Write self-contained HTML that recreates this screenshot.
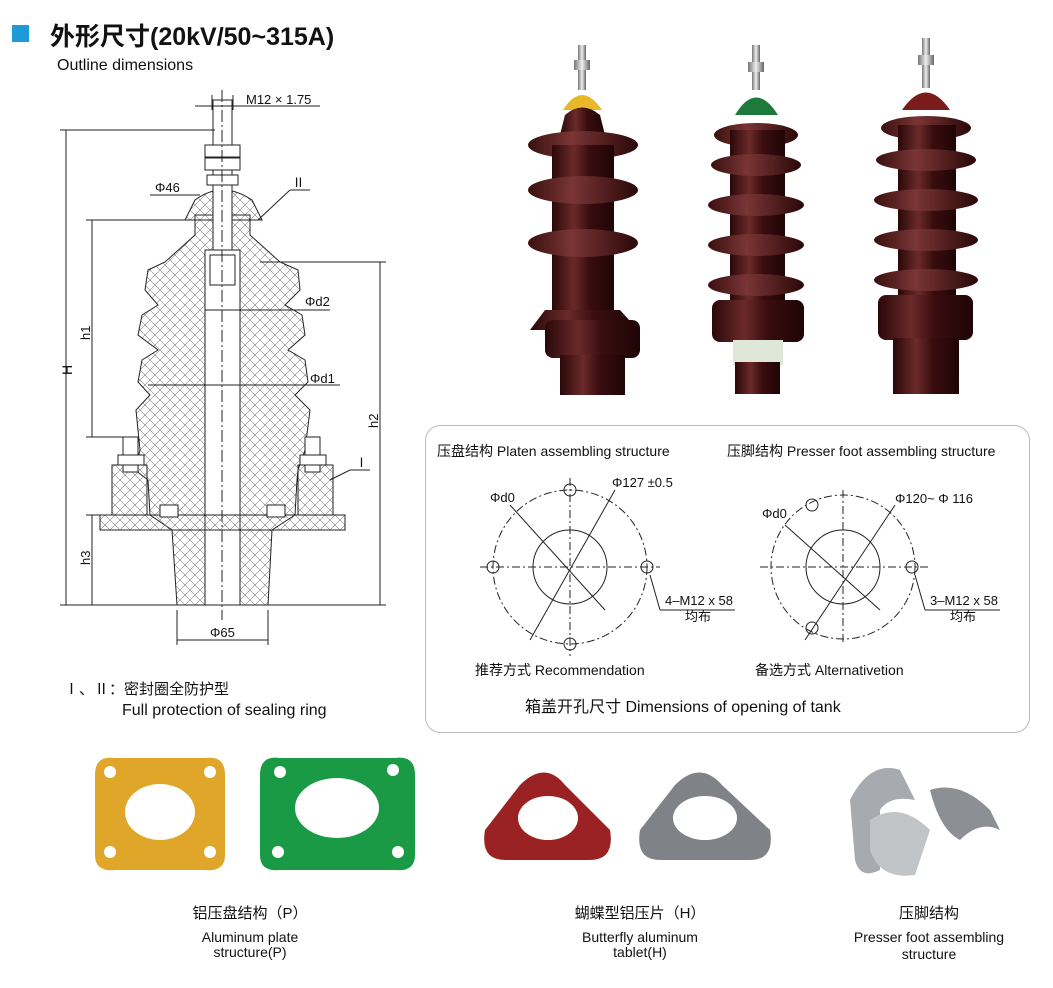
<!DOCTYPE html>
<html><head><meta charset="utf-8"><style>
body{margin:0;background:#fff;}
svg{display:block;font-family:"Liberation Sans","Noto Sans CJK SC",sans-serif;}
</style></head><body>
<svg width="1053" height="988" viewBox="0 0 1053 988" xmlns="http://www.w3.org/2000/svg">
<defs>
<pattern id="hatch" width="10" height="10" patternUnits="userSpaceOnUse">
<path d="M0 0L10 10M10 0L0 10" stroke="#555" stroke-width="0.5"/>
</pattern>
<linearGradient id="br" x1="0" x2="1">
<stop offset="0" stop-color="#2a0808"/><stop offset="0.35" stop-color="#6b2a2a"/><stop offset="0.6" stop-color="#3a0d0f"/><stop offset="1" stop-color="#1e0505"/>
</linearGradient>
<linearGradient id="br2" x1="0" x2="1">
<stop offset="0" stop-color="#3a1010"/><stop offset="0.4" stop-color="#7a3535"/><stop offset="1" stop-color="#2a0808"/>
</linearGradient>
<linearGradient id="steel" x1="0" x2="1">
<stop offset="0" stop-color="#777"/><stop offset="0.5" stop-color="#eee"/><stop offset="1" stop-color="#666"/>
</linearGradient>
</defs>

<rect x="12" y="25" width="17" height="17" fill="#1e9ad6"/>
<text x="50" y="45" font-size="25" font-weight="bold" fill="#111">外形尺寸(20kV/50~315A)</text>
<text x="57" y="70" font-size="16" fill="#111">Outline dimensions</text>

<g stroke="#222" stroke-width="1" fill="none">
<path d="M177 605 L172 530 L150 515 L148 480 L135 470 L140 450 L136 410 L150 395 L138 382 L142 360 L158 350 L138 335 L142 315 L158 305 L145 290 L148 270 L165 262 L195 235 L195 215 L250 215 L250 235 L280 262 L298 270 L300 290 L285 305 L302 315 L305 335 L288 350 L305 360 L308 382 L295 395 L310 410 L305 450 L298 470 L297 480 L295 515 L272 530 L268 605 Z" fill="url(#hatch)"/>
<rect x="205" y="250" width="35" height="355" fill="#fff"/>
<path d="M195 200 Q222 180 252 200 L262 220 L185 220 Z" fill="url(#hatch)"/>
<rect x="213" y="100" width="19" height="150" fill="#fff"/>
<rect x="205" y="145" width="35" height="12" fill="#fff"/>
<rect x="205" y="158" width="35" height="12" fill="#fff"/>
<rect x="207" y="175" width="31" height="10" fill="#fff"/>
<rect x="210" y="255" width="25" height="30" fill="#fff"/>
<line x1="222" y1="90" x2="222" y2="620" stroke-dasharray="12 3 2 3"/>
<rect x="100" y="515" width="245" height="15" fill="url(#hatch)"/>
<rect x="112" y="465" width="35" height="50" fill="url(#hatch)"/>
<rect x="298" y="465" width="35" height="50" fill="url(#hatch)"/>
<rect x="123" y="437" width="15" height="35" fill="#fff"/>
<rect x="118" y="455" width="26" height="10" fill="#fff"/>
<rect x="305" y="437" width="15" height="35" fill="#fff"/>
<rect x="300" y="455" width="26" height="10" fill="#fff"/>
<rect x="160" y="505" width="18" height="12" fill="#fff"/>
<rect x="267" y="505" width="18" height="12" fill="#fff"/>
<line x1="66" y1="130" x2="66" y2="605"/>
<line x1="60" y1="130" x2="215" y2="130"/>
<line x1="60" y1="605" x2="180" y2="605"/>
<line x1="92" y1="220" x2="92" y2="437"/>
<line x1="86" y1="220" x2="190" y2="220"/>
<line x1="86" y1="437" x2="125" y2="437"/>
<line x1="92" y1="515" x2="92" y2="605"/>
<line x1="86" y1="515" x2="100" y2="515"/>
<line x1="380" y1="262" x2="380" y2="605"/>
<line x1="260" y1="262" x2="386" y2="262"/>
<line x1="268" y1="605" x2="386" y2="605"/>
<line x1="177" y1="610" x2="177" y2="645"/>
<line x1="268" y1="610" x2="268" y2="645"/>
<line x1="177" y1="640" x2="268" y2="640"/>
<line x1="212" y1="95" x2="212" y2="110"/><line x1="233" y1="95" x2="233" y2="110"/>
<line x1="195" y1="106" x2="320" y2="106"/>
<line x1="150" y1="195" x2="200" y2="195"/>
<line x1="205" y1="310" x2="330" y2="310"/>
<line x1="148" y1="385" x2="340" y2="385"/>
<line x1="258" y1="220" x2="290" y2="190"/><line x1="290" y1="190" x2="310" y2="190"/>
<line x1="330" y1="480" x2="350" y2="470"/><line x1="350" y1="470" x2="370" y2="470"/>
</g>
<g font-size="13" fill="#111">
<text x="246" y="104">M12 × 1.75</text>
<text x="155" y="192">Φ46</text>
<text x="292" y="187">Ⅱ</text>
<text x="305" y="306">Φd2</text>
<text x="310" y="383">Φd1</text>
<text x="355" y="467">Ⅰ</text>
<text x="210" y="637">Φ65</text>
<text transform="translate(72,375) rotate(-90)" font-size="14">H</text>
<text transform="translate(90,340) rotate(-90)">h1</text>
<text transform="translate(90,565) rotate(-90)">h3</text>
<text transform="translate(378,428) rotate(-90)">h2</text>
</g>
<text x="64" y="694" font-size="15" fill="#111">Ⅰ、Ⅱ：密封圈全防护型</text>
<text x="122" y="715" font-size="16" fill="#111">Full protection of sealing ring</text>

<g>
<rect x="578" y="45" width="8" height="45" fill="url(#steel)"/>
<rect x="574" y="60" width="16" height="10" fill="url(#steel)"/>
<path d="M563 110 Q582 80 602 110 Z" fill="#e8b82a"/>
<path d="M565 115 Q582 100 600 115 L605 135 L560 135 Z" fill="url(#br)"/>
<ellipse cx="583" cy="145" rx="55" ry="14" fill="url(#br2)"/>
<rect x="552" y="145" width="62" height="180" fill="url(#br)"/>
<ellipse cx="583" cy="190" rx="55" ry="14" fill="url(#br2)"/>
<ellipse cx="583" cy="243" rx="55" ry="14" fill="url(#br2)"/>
<path d="M545 310 L620 310 L638 330 L530 330 Z" fill="url(#br)"/>
<rect x="545" y="320" width="95" height="38" rx="8" fill="url(#br)"/>
<rect x="560" y="355" width="65" height="40" fill="url(#br)"/>
</g>
<g>
<rect x="752" y="45" width="8" height="45" fill="url(#steel)"/>
<rect x="748" y="62" width="16" height="10" fill="url(#steel)"/>
<path d="M735 115 Q756 80 778 115 Z" fill="#1e7a3a"/>
<ellipse cx="756" cy="135" rx="42" ry="12" fill="url(#br2)"/>
<rect x="730" y="130" width="55" height="190" fill="url(#br)"/>
<ellipse cx="756" cy="165" rx="45" ry="11" fill="url(#br2)"/>
<ellipse cx="756" cy="205" rx="48" ry="11" fill="url(#br2)"/>
<ellipse cx="756" cy="245" rx="48" ry="11" fill="url(#br2)"/>
<ellipse cx="756" cy="285" rx="48" ry="11" fill="url(#br2)"/>
<rect x="712" y="300" width="92" height="42" rx="8" fill="url(#br)"/>
<rect x="733" y="340" width="50" height="25" fill="#dfe8d8"/>
<rect x="735" y="362" width="45" height="32" fill="url(#br)"/>
</g>
<g>
<rect x="922" y="38" width="8" height="50" fill="url(#steel)"/>
<rect x="918" y="55" width="16" height="10" fill="url(#steel)"/>
<path d="M902 110 Q926 75 950 110 Z" fill="#7a1c1c"/>
<ellipse cx="926" cy="128" rx="45" ry="12" fill="url(#br2)"/>
<rect x="898" y="125" width="58" height="200" fill="url(#br)"/>
<ellipse cx="926" cy="160" rx="50" ry="11" fill="url(#br2)"/>
<ellipse cx="926" cy="200" rx="52" ry="11" fill="url(#br2)"/>
<ellipse cx="926" cy="240" rx="52" ry="11" fill="url(#br2)"/>
<ellipse cx="926" cy="280" rx="52" ry="11" fill="url(#br2)"/>
<rect x="878" y="295" width="95" height="45" rx="8" fill="url(#br)"/>
<rect x="893" y="338" width="66" height="56" fill="url(#br)"/>
</g>

<rect x="425.5" y="425.5" width="604" height="307" rx="15" fill="none" stroke="#bbb"/>
<g font-size="14" fill="#111">
<text x="437" y="456">压盘结构 Platen assembling structure</text>
<text x="727" y="456">压脚结构 Presser foot assembling structure</text>
<text x="475" y="675">推荐方式 Recommendation</text>
<text x="755" y="675">备选方式 Alternativetion</text>
<text x="525" y="712" font-size="16">箱盖开孔尺寸 Dimensions of opening of tank</text>
<text x="490" y="502" font-size="13">Φd0</text>
<text x="612" y="487" font-size="13">Φ127 ±0.5</text>
<text x="665" y="605" font-size="13">4–M12 x 58</text>
<text x="685" y="621" font-size="13">均布</text>
<text x="762" y="518" font-size="13">Φd0</text>
<text x="895" y="503" font-size="13">Φ120~ Φ 116</text>
<text x="930" y="605" font-size="13">3–M12 x 58</text>
<text x="950" y="621" font-size="13">均布</text>
</g>
<g stroke="#222" fill="none" stroke-width="1">
<circle cx="570" cy="567" r="77" stroke-dasharray="8 3 2 3"/>
<circle cx="570" cy="567" r="37"/>
<circle cx="570" cy="490" r="6"/><circle cx="570" cy="644" r="6"/>
<circle cx="493" cy="567" r="6"/><circle cx="647" cy="567" r="6"/>
<line x1="480" y1="567" x2="660" y2="567" stroke-dasharray="8 3 2 3"/>
<line x1="570" y1="478" x2="570" y2="656" stroke-dasharray="8 3 2 3"/>
<line x1="510" y1="505" x2="605" y2="610"/>
<line x1="530" y1="640" x2="615" y2="490"/>
<line x1="650" y1="575" x2="660" y2="610"/><line x1="660" y1="610" x2="735" y2="610"/>
<circle cx="843" cy="567" r="72" stroke-dasharray="8 3 2 3"/>
<circle cx="843" cy="567" r="37"/>
<circle cx="812" cy="505" r="6"/><circle cx="812" cy="628" r="6"/>
<circle cx="912" cy="567" r="6"/>
<line x1="760" y1="567" x2="928" y2="567" stroke-dasharray="8 3 2 3"/>
<line x1="843" y1="490" x2="843" y2="645" stroke-dasharray="8 3 2 3"/>
<line x1="785" y1="525" x2="880" y2="610"/>
<line x1="805" y1="640" x2="895" y2="505"/>
<line x1="915" y1="575" x2="925" y2="610"/><line x1="925" y1="610" x2="1000" y2="610"/>
</g>

<g>
<path d="M95 775 Q95 755 115 758 L205 758 Q225 755 225 775 L225 855 Q225 872 205 870 L115 870 Q95 872 95 855 Z" fill="#e0a62a"/>
<ellipse cx="160" cy="812" rx="35" ry="28" fill="#fff"/>
<circle cx="110" cy="772" r="6" fill="#fff"/><circle cx="210" cy="772" r="6" fill="#fff"/>
<circle cx="110" cy="852" r="6" fill="#fff"/><circle cx="210" cy="852" r="6" fill="#fff"/>
<path d="M260 775 Q260 755 280 758 L395 758 Q415 755 415 775 L415 855 Q415 872 395 870 L280 870 Q260 872 260 855 Z" fill="#1a9a45"/>
<ellipse cx="337" cy="808" rx="42" ry="30" fill="#fff"/>
<circle cx="280" cy="772" r="6" fill="#fff"/><circle cx="393" cy="770" r="6" fill="#fff"/>
<circle cx="278" cy="852" r="6" fill="#fff"/><circle cx="398" cy="852" r="6" fill="#fff"/>
<path d="M485 830 L520 785 Q545 760 565 785 L610 830 Q615 860 590 860 L505 860 Q480 860 485 830 Z" fill="#9a2222"/>
<ellipse cx="548" cy="818" rx="30" ry="22" fill="#fff"/>
<path d="M640 830 L675 785 Q700 760 722 785 L770 830 Q775 860 750 860 L660 860 Q635 860 640 830 Z" fill="#7f8286"/>
<ellipse cx="705" cy="818" rx="32" ry="22" fill="#fff"/>
<path d="M850 800 Q870 760 900 770 L915 800 Q890 795 880 810 L880 870 Q860 880 855 860 Z" fill="#a7aaae"/>
<path d="M930 790 Q960 780 990 810 L1000 830 Q980 820 960 840 Q940 830 930 790 Z" fill="#8c9094"/>
<path d="M870 820 Q900 800 930 830 L915 875 Q880 880 870 850 Z" fill="#c2c5c8"/>
</g>
<g font-size="14" fill="#111" text-anchor="middle">
<text x="250" y="918" font-size="15">铝压盘结构（P）</text>
<text x="250" y="942">Aluminum plate</text>
<text x="250" y="957">structure(P)</text>
<text x="640" y="918" font-size="15">蝴蝶型铝压片（H）</text>
<text x="640" y="942">Butterfly aluminum</text>
<text x="640" y="957">tablet(H)</text>
<text x="929" y="918" font-size="15">压脚结构</text>
<text x="929" y="942">Presser foot assembling</text>
<text x="929" y="959">structure</text>
</g>
</svg>
</body></html>
